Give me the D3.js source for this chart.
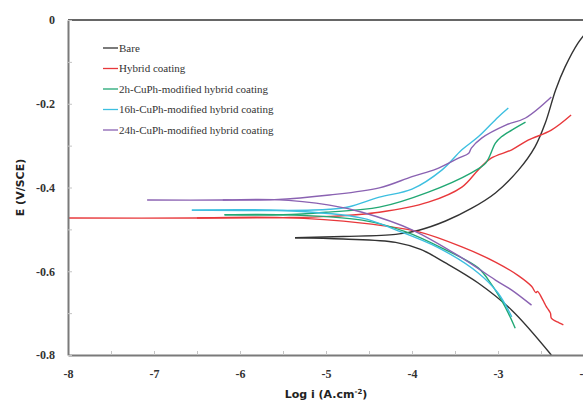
<!DOCTYPE html>
<html>
<head>
<meta charset="utf-8">
<script src="https://cdn.jsdelivr.net/npm/d3@7/dist/d3.min.js"></script>
<style>
  html, body { margin: 0; padding: 0; background: #fff; }
  svg { display: block; }
</style>
</head>
<body>
<div id="chart"></div>
<script>
// tafel curves as [log i, E]
var seriesNames = ["Bare", "Hybrid coating", "2h-CuPh-modified hybrid coating",
  "16h-CuPh-modified hybrid coating", "24h-CuPh-modified hybrid coating"];
var seriesColors = ["#333333", "#e8383b", "#22a874", "#3dbfe0", "#8a62b2"];

var bareAnodic = [[-5.36, -0.520], [-4.8, -0.517], [-4.19, -0.512], [-3.92, -0.502], [-3.61, -0.480],
  [-3.31, -0.450], [-3.03, -0.413], [-2.76, -0.358], [-2.57, -0.303], [-2.45, -0.246],
  [-2.33, -0.167], [-2.22, -0.112], [-2.07, -0.055], [-1.95, -0.024]];
var bareCathodic = [[-5.36, -0.520], [-4.8, -0.523], [-4.19, -0.531], [-3.9, -0.548], [-3.61, -0.580],
  [-3.23, -0.628], [-2.84, -0.693], [-2.38, -0.800]];

var hybridAnodic = [[-8.0, -0.473], [-6.5, -0.473], [-5.5, -0.472], [-4.96, -0.469], [-4.38, -0.459],
  [-3.81, -0.435], [-3.42, -0.399], [-3.23, -0.358], [-3.08, -0.330], [-2.84, -0.310],
  [-2.65, -0.287], [-2.38, -0.263], [-2.15, -0.227]];
var hybridCathodic = [[-6.5, -0.473], [-5.5, -0.472], [-4.58, -0.485], [-3.92, -0.506], [-3.42, -0.542],
  [-3.03, -0.578], [-2.76, -0.611], [-2.61, -0.636], [-2.56, -0.651], [-2.54, -0.648],
  [-2.49, -0.664], [-2.46, -0.676], [-2.44, -0.684], [-2.42, -0.690], [-2.39, -0.700],
  [-2.38, -0.712], [-2.33, -0.719], [-2.29, -0.723], [-2.24, -0.728]];

var h2Anodic = [[-6.18, -0.465], [-5.5, -0.465], [-5.0, -0.459], [-4.38, -0.447], [-3.81, -0.411],
  [-3.31, -0.365], [-3.14, -0.341], [-3.03, -0.294], [-2.96, -0.279], [-2.84, -0.263], [-2.68, -0.244]];
var h2Cathodic = [[-6.18, -0.465], [-5.5, -0.465], [-4.58, -0.478], [-4.07, -0.506], [-3.61, -0.549],
  [-3.23, -0.592], [-3.08, -0.630], [-2.96, -0.669], [-2.88, -0.700], [-2.80, -0.736]];

var h16Anodic = [[-6.56, -0.454], [-5.5, -0.455], [-4.96, -0.452], [-4.73, -0.446], [-4.38, -0.423],
  [-4.00, -0.404], [-3.65, -0.358], [-3.42, -0.310], [-3.23, -0.279], [-3.00, -0.232], [-2.88, -0.210]];
var h16Cathodic = [[-6.56, -0.454], [-5.5, -0.455], [-4.58, -0.473], [-4.19, -0.501], [-3.69, -0.544],
  [-3.23, -0.604], [-3.00, -0.652], [-2.84, -0.709]];

var h24Anodic = [[-7.08, -0.430], [-6.2, -0.430], [-5.6, -0.429], [-4.96, -0.418], [-4.38, -0.401],
  [-4.00, -0.374], [-3.72, -0.356], [-3.46, -0.330], [-3.34, -0.318], [-3.31, -0.306],
  [-3.19, -0.282], [-2.91, -0.251], [-2.68, -0.234], [-2.38, -0.184]];
var h24Cathodic = [[-6.2, -0.430], [-5.6, -0.429], [-4.96, -0.442], [-4.58, -0.459], [-4.00, -0.501],
  [-3.42, -0.568], [-3.03, -0.621], [-2.84, -0.645], [-2.61, -0.681]];

var branches = [
  [bareAnodic, bareCathodic],
  [hybridAnodic, hybridCathodic],
  [h2Anodic, h2Cathodic],
  [h16Anodic, h16Cathodic],
  [h24Anodic, h24Cathodic]
];

var xTicks = [-8, -7.5, -7, -6.5, -6, -5.5, -5, -4.5, -4, -3.5, -3, -2.5, -2];
var yTicks = [0, -0.1, -0.2, -0.3, -0.4, -0.5, -0.6, -0.7, -0.8];

var width = 583, height = 401;
var plotLeft = 68, plotTop = 20, plotRight = 584, plotBottom = 355;

var svg = d3.select("#chart").append("svg")
  .attr("width", width).attr("height", height);

var x = d3.scaleLinear().domain([-8, -2]).range([plotLeft, plotRight]);
var y = d3.scaleLinear().domain([-0.8, 0]).range([plotBottom, plotTop]);

// curves (drawn first so axes sit on top)
var line = d3.line()
  .x(function (d) { return x(d[0]); })
  .y(function (d) { return y(d[1]); })
  .curve(d3.curveCatmullRom.alpha(0.5));

branches.forEach(function (pair, i) {
  pair.forEach(function (pts) {
    svg.append("path")
      .attr("d", line(pts))
      .attr("fill", "none")
      .attr("stroke", seriesColors[i])
      .attr("stroke-width", 1.4);
  });
});

// top frame line
svg.append("line")
  .attr("x1", plotLeft).attr("x2", width)
  .attr("y1", plotTop).attr("y2", plotTop)
  .attr("stroke", "#333").attr("stroke-width", 1.6);

// x axis
var xAxis = svg.append("g")
  .attr("transform", "translate(0," + plotBottom + ")")
  .call(d3.axisBottom(x).tickValues(xTicks).tickSizeInner(-4).tickSizeOuter(0)
    .tickFormat(function (d) { return d % 1 === 0 ? String(d) : ""; }));
xAxis.select(".domain").attr("stroke", "#7a7a7a").attr("stroke-width", 2);
xAxis.selectAll(".tick line").attr("stroke", "#c4c4c4");
xAxis.selectAll("text")
  .attr("y", 14).attr("dy", "0.71em")
  .attr("font-family", "Liberation Serif").attr("font-weight", "bold")
  .attr("font-size", 12).attr("fill", "#333");

// y axis
var yAxis = svg.append("g")
  .attr("transform", "translate(" + plotLeft + ",0)")
  .call(d3.axisLeft(y).tickValues(yTicks).tickSizeInner(-4).tickSizeOuter(0)
    .tickFormat(function (d) {
      if (Math.round(d * 10) % 2 !== 0) return "";
      return d === 0 ? "0" : "-" + Math.abs(d).toFixed(1);
    }));
yAxis.select(".domain").attr("stroke", "#7a7a7a").attr("stroke-width", 2);
yAxis.selectAll(".tick line").attr("stroke", "#c4c4c4");
yAxis.selectAll("text")
  .attr("x", -13)
  .attr("font-family", "Liberation Serif").attr("font-weight", "bold")
  .attr("font-size", 12).attr("fill", "#333");

// axis titles
svg.append("text")
  .attr("transform", "translate(24," + ((plotTop + plotBottom) / 2) + ") rotate(-90)")
  .attr("text-anchor", "middle")
  .attr("font-family", "DejaVu Sans").attr("font-weight", "bold")
  .attr("font-size", 11).attr("fill", "#222")
  .text("E (V/SCE)");

var xt = svg.append("text")
  .attr("x", 326).attr("y", 398)
  .attr("text-anchor", "middle")
  .attr("font-family", "DejaVu Sans").attr("font-weight", "bold")
  .attr("font-size", 11).attr("fill", "#222");
xt.append("tspan").text("Log i  (A.cm");
xt.append("tspan").attr("font-size", 7).attr("dy", -4).text("-2");
xt.append("tspan").attr("dy", 4).text(")");

// legend
var legend = svg.append("g");
seriesNames.forEach(function (name, i) {
  var ly = 48 + i * 20.5;
  legend.append("line")
    .attr("x1", 103).attr("x2", 118)
    .attr("y1", ly).attr("y2", ly)
    .attr("stroke", seriesColors[i]).attr("stroke-width", 1.3);
  legend.append("text")
    .attr("x", 119).attr("y", ly).attr("dy", "0.35em")
    .attr("font-family", "Liberation Serif").attr("font-size", 11)
    .attr("fill", "#333")
    .text(name);
});
</script>
</body>
</html>
